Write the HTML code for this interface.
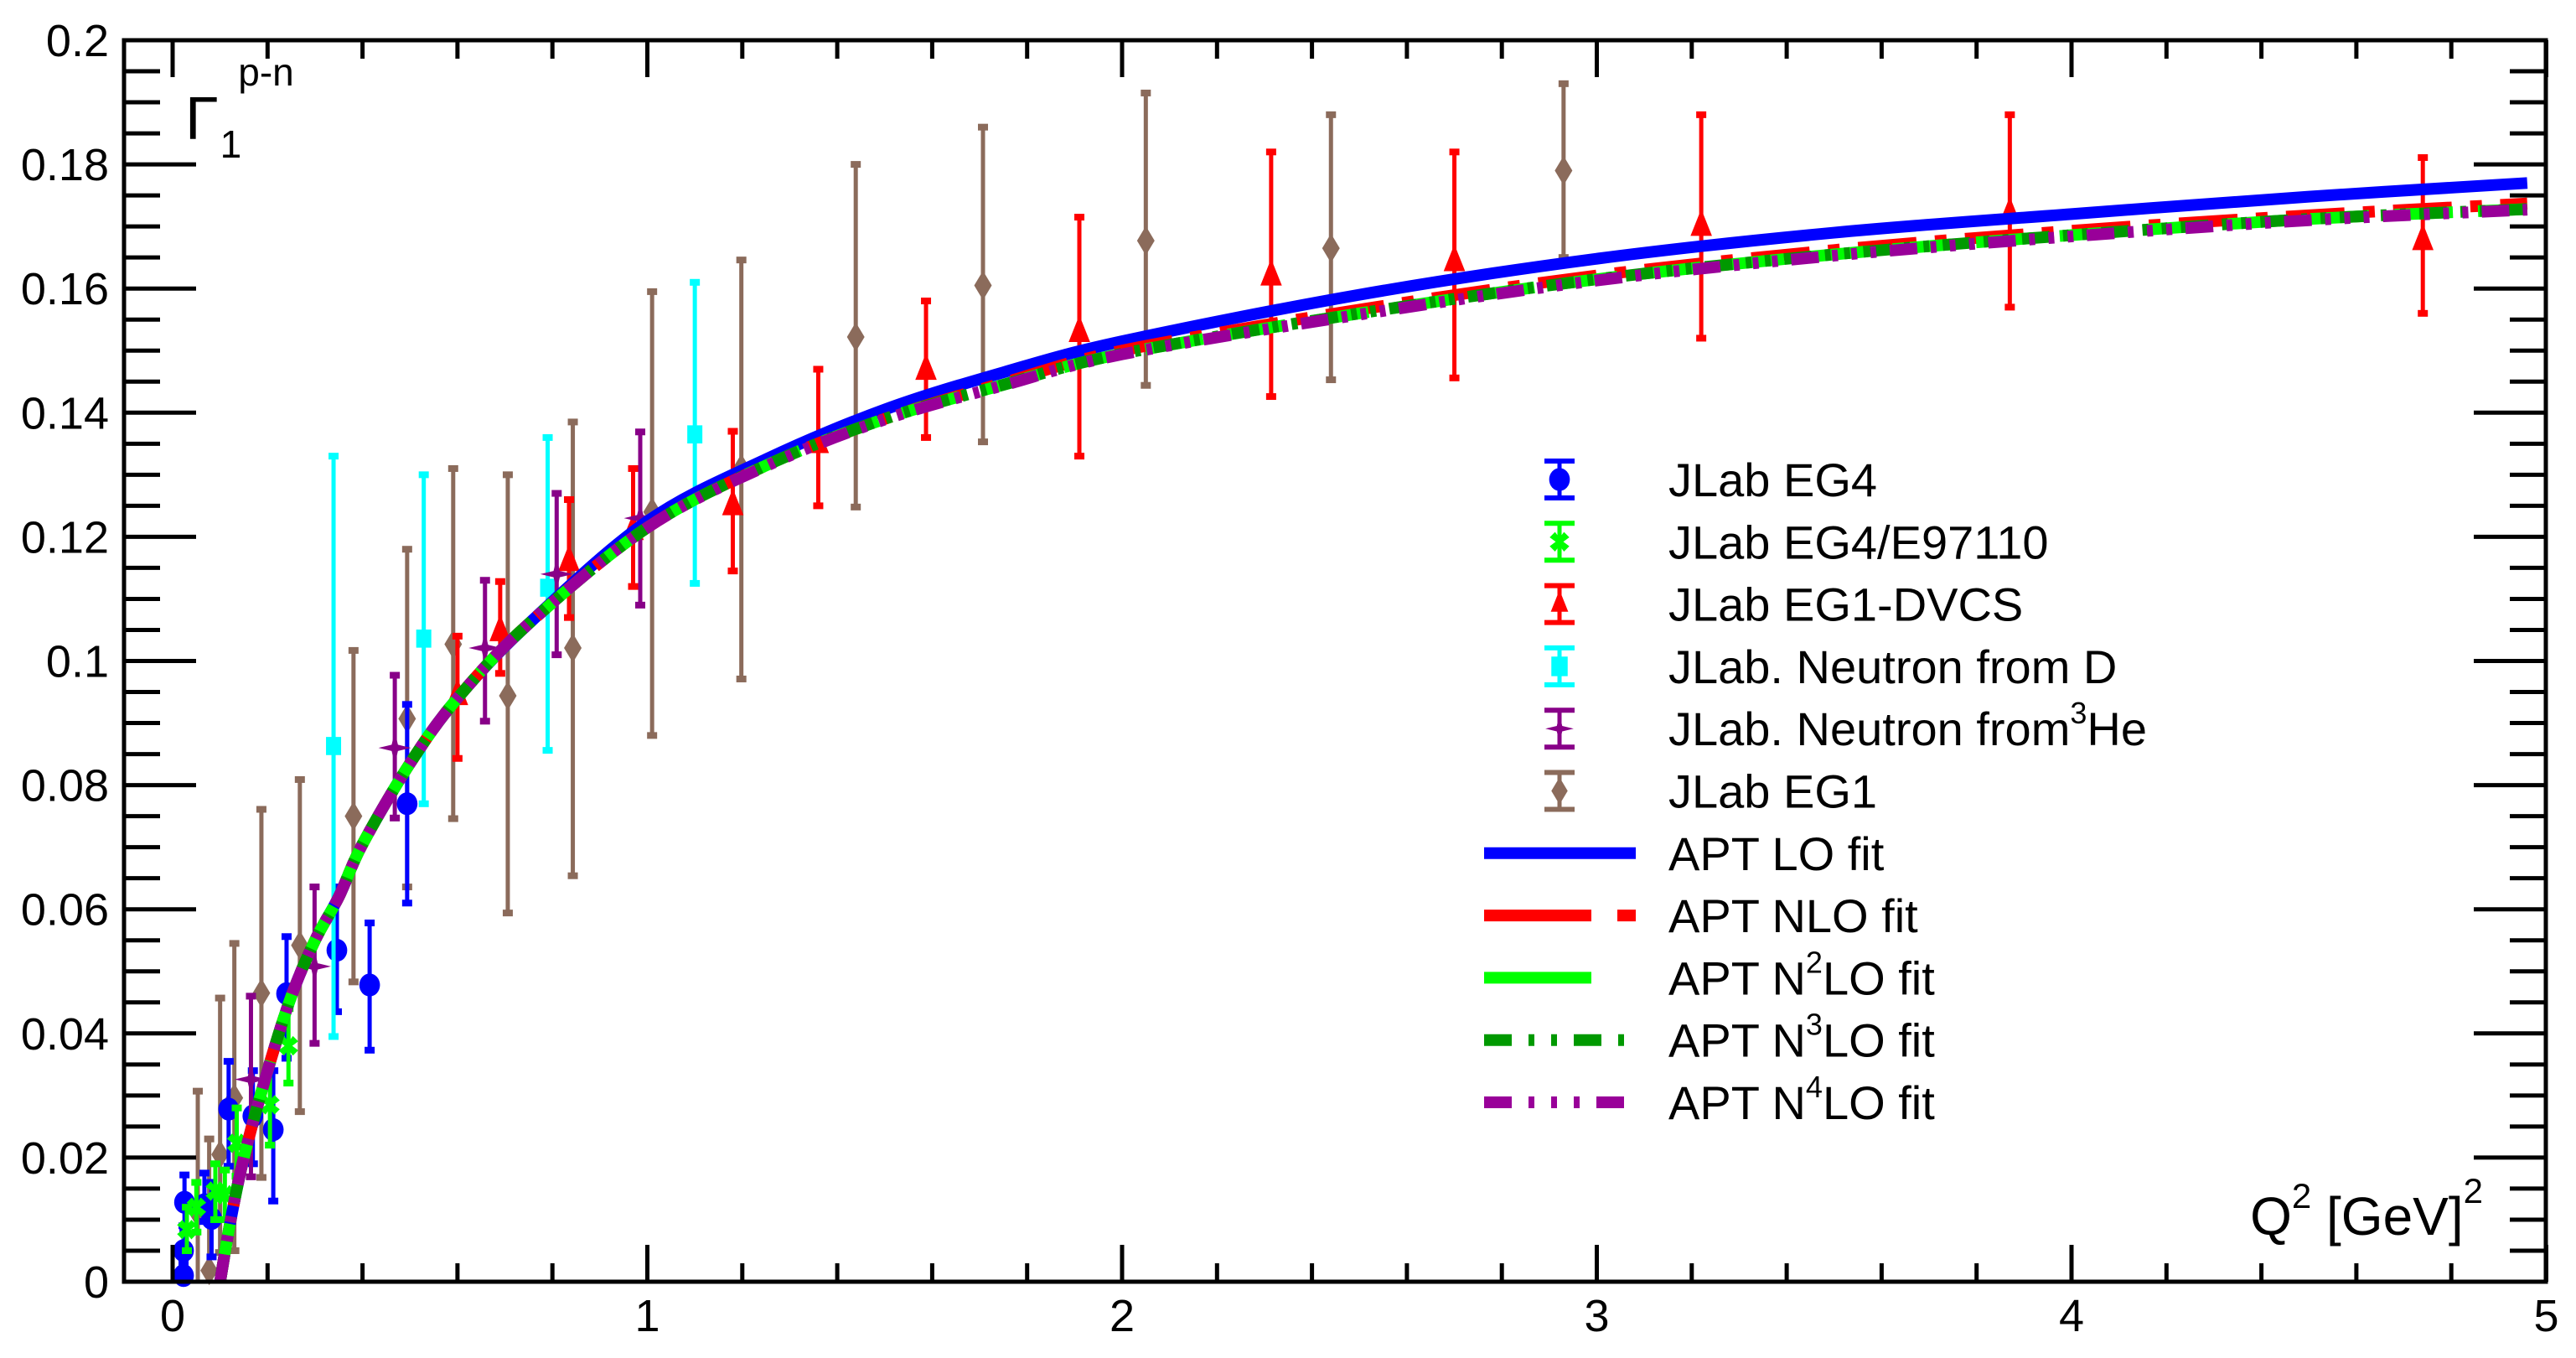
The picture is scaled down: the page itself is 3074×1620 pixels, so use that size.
<!DOCTYPE html>
<html><head><meta charset="utf-8">
<style>
html,body{margin:0;padding:0;background:#fff;}
svg{display:block;font-family:"Liberation Sans",Arial,sans-serif;}
</style></head>
<body>
<svg id="chart" width="3074" height="1620" viewBox="0 0 3074 1620" xmlns="http://www.w3.org/2000/svg">
<rect x="0" y="0" width="3074" height="1620" fill="#fff"/>
<g id="data-layer"></g>
<g id="curve-layer"></g>
<g id="axis-layer"></g>
<g id="legend-layer"></g>
<text x="221" y="166" font-size="72">Γ<tspan font-size="46" dx="2" dy="22">1</tspan><tspan font-size="46" dx="-4" dy="-86">p-n</tspan></text>
<text x="2963" y="1473" font-size="64" text-anchor="end">Q<tspan font-size="42" dy="-32">2</tspan><tspan dy="32"> [GeV]</tspan><tspan font-size="42" dy="-38">2</tspan></text>
</svg>
<script>
// ---- data ----
const xTicks = [0,1,2,3,4,5];
const yTicks = [0,0.02,0.04,0.06,0.08,0.1,0.12,0.14,0.16,0.18,0.2];
const yTickLabels = ["0","0.02","0.04","0.06","0.08","0.1","0.12","0.14","0.16","0.18","0.2"];

const eg4Q   = [0.023,0.023,0.025,0.067,0.082,0.118,0.169,0.212,0.240,0.346,0.415,0.494];
const eg4V   = [0.001,0.005,0.0128,0.0124,0.0102,0.0278,0.0267,0.0245,0.0464,0.0534,0.0478,0.077];
const eg4Lo  = [0.0,0.0,0.008,0.0097,0.004,0.0186,0.019,0.013,0.036,0.0435,0.0373,0.061];
const eg4Hi  = [0.003,0.009,0.0172,0.0175,0.016,0.0355,0.034,0.034,0.0556,0.0636,0.0578,0.093];

const e97Q   = [0.030,0.050,0.090,0.110,0.135,0.205,0.244];
const e97V   = [0.0084,0.012,0.0146,0.014,0.0223,0.0285,0.038];
const e97Lo  = [0.005,0.008,0.010,0.010,0.017,0.022,0.032];
const e97Hi  = [0.012,0.016,0.019,0.018,0.028,0.035,0.044];

const dvcsQ  = [0.60,0.69,0.835,0.97,1.18,1.36,1.587,1.91,2.314,2.70,3.22,3.87,4.74];
const dvcsV  = [0.0944,0.1047,0.116,0.121,0.125,0.135,0.1468,0.1529,0.162,0.1643,0.170,0.172,0.1677];
const dvcsLo = [0.0843,0.098,0.107,0.112,0.1145,0.125,0.136,0.133,0.1426,0.1456,0.152,0.157,0.156];
const dvcsHi = [0.104,0.1128,0.126,0.131,0.137,0.147,0.158,0.1715,0.182,0.182,0.188,0.188,0.1811];

const ndQ    = [0.339,0.529,0.79,1.10];
const ndV    = [0.0863,0.1036,0.1118,0.1365];
const ndLo   = [0.0395,0.077,0.0856,0.1125];
const ndHi   = [0.133,0.130,0.136,0.161];

const n3Q    = [0.165,0.299,0.468,0.658,0.809,0.985];
const n3V    = [0.0326,0.0508,0.086,0.1021,0.114,0.123];
const n3Lo   = [0.0169,0.0384,0.0747,0.0903,0.101,0.109];
const n3Hi   = [0.046,0.0636,0.0977,0.113,0.127,0.1369];

const eg1Q   = [0.053,0.077,0.10,0.13,0.187,0.268,0.381,0.494,0.591,0.706,0.843,1.01,1.198,1.439,1.707,2.05,2.44,2.93];
const eg1V   = [0.011,0.0018,0.0205,0.0296,0.0465,0.0542,0.075,0.0907,0.1027,0.0944,0.1021,0.124,0.131,0.1522,0.1605,0.1677,0.1665,0.179];
const eg1Lo  = [0.0,0.0,0.0047,0.005,0.0168,0.0274,0.0483,0.0636,0.0746,0.0594,0.0654,0.088,0.0971,0.1248,0.1353,0.1444,0.1453,0.165];
const eg1Hi  = [0.0307,0.023,0.0457,0.0545,0.0761,0.0809,0.1017,0.118,0.131,0.130,0.1385,0.1595,0.1646,0.180,0.186,0.1915,0.188,0.193];

const fitQ   = [0.1,0.12,0.15,0.2,0.25,0.3,0.35,0.4,0.5,0.6,0.75,1.0,1.25,1.5,1.75,2,2.5,3,3.5,4,4.5,4.96];
const loV    = [0,0.009,0.02,0.034,0.046,0.055,0.062,0.0705,0.0835,0.094,0.106,0.1225,0.1325,0.1405,0.1465,0.1515,0.159,0.1648,0.169,0.172,0.1748,0.177];
const nloV   = [0,0.009,0.02,0.034,0.046,0.055,0.062,0.0705,0.0835,0.094,0.106,0.1215,0.1315,0.139,0.1448,0.150,0.1566,0.1621,0.1662,0.1693,0.1718,0.1737];
const n2loV  = [0,0.009,0.02,0.034,0.046,0.055,0.062,0.0705,0.0835,0.094,0.106,0.1215,0.1315,0.139,0.1445,0.1495,0.156,0.1615,0.1655,0.1686,0.1712,0.1728];
const n3loV  = [0,0.009,0.02,0.034,0.046,0.055,0.062,0.0705,0.0835,0.094,0.106,0.1215,0.1315,0.139,0.1445,0.1495,0.156,0.1615,0.1655,0.1686,0.1712,0.1728];
const n4loV  = [0,0.009,0.02,0.034,0.046,0.055,0.062,0.0705,0.0835,0.094,0.106,0.1215,0.1314,0.1389,0.1444,0.1494,0.1558,0.1613,0.1653,0.1684,0.171,0.1727];

// ---- geometry ----
const NS = "http://www.w3.org/2000/svg";
const X0 = 206, XU = 566.5, Y0 = 1529, YU = 7405;
const L = 148, R = 3038, T = 48, B = 1529;
function sx(q){ return X0 + q*XU; }
function sy(v){ return Y0 - v*YU; }
function mk(tag, attrs, parent){
  const e = document.createElementNS(NS, tag);
  for (const k in attrs) e.setAttribute(k, attrs[k]);
  parent.appendChild(e);
  return e;
}
const dataL = document.getElementById('data-layer');
const curveL = document.getElementById('curve-layer');
const axisL = document.getElementById('axis-layer');
const legL = document.getElementById('legend-layer');

function markerPath(type, x, y, s){
  if (type==='x'){ const a=s*0.9,b=s*0.35;
    return `M${x-a},${y-a+b*1.4}L${x-a+b*1.4},${y-a}L${x},${y-b}L${x+a-b*1.4},${y-a}L${x+a},${y-a+b*1.4}L${x+b},${y}L${x+a},${y+a-b*1.4}L${x+a-b*1.4},${y+a}L${x},${y+b}L${x-a+b*1.4},${y+a}L${x-a},${y+a-b*1.4}L${x-b},${y}Z`; }
  if (type==='tri') return `M${x},${y-s*1.3}L${x+s*0.8},${y+s*0.7}L${x-s*0.8},${y+s*0.7}Z`;
  if (type==='square') return `M${x-s*0.75},${y-s*0.9}h${s*1.5}v${s*1.8}h${-s*1.5}Z`;
  if (type==='star') return `M${x},${y-s*1.3}L${x+s*0.25},${y-s*0.25}L${x+s*1.3},${y}L${x+s*0.25},${y+s*0.25}L${x},${y+s*1.3}L${x-s*0.25},${y+s*0.25}L${x-s*1.3},${y}L${x-s*0.25},${y-s*0.25}Z`;
  if (type==='diamond') return `M${x},${y-s*1.25}L${x+s*0.75},${y}L${x},${y+s*1.25}L${x-s*0.75},${y}Z`;
}
function drawMarker(g, type, x, y, s, color){
  if (type==='circle') return mk('ellipse',{cx:x,cy:y,rx:s*0.95,ry:s*1.05,fill:color},g);
  return mk('path',{d:markerPath(type,x,y,s),fill:color},g);
}

function drawSeries(name, Q, V, Lo, Hi, color, type, size){
  const g = mk('g',{},dataL);
  
  
  for (let i=0;i<Q.length;i++){
    const x = sx(Q[i]);
    const yl = Math.min(sy(Lo[i]), B), yh = sy(Hi[i]);
    const bar = mk('line',{x1:x,x2:x,y1:yl,y2:yh,stroke:color,'stroke-width':5},g);
    
    
    if (sy(Lo[i]) < B) mk('rect',{x:x-6,y:yl-4,width:12,height:8,fill:color},g);
    mk('rect',{x:x-6,y:yh-4,width:12,height:8,fill:color},g);
    const m = drawMarker(g, type, x, sy(V[i]), size, color);
    
    
  }
}
drawSeries('eg1-series', eg1Q, eg1V, eg1Lo, eg1Hi, '#8b6b5b', 'diamond', 14);
drawSeries('eg4-series', eg4Q, eg4V, eg4Lo, eg4Hi, '#0000ff', 'circle', 13);
drawSeries('eg4-e97110-series', e97Q, e97V, e97Lo, e97Hi, '#00ff00', 'x', 13);
drawSeries('eg1-dvcs-series', dvcsQ, dvcsV, dvcsLo, dvcsHi, '#ff0000', 'tri', 16);
drawSeries('neutron-d-series', ndQ, ndV, ndLo, ndHi, '#00ffff', 'square', 12);
drawSeries('neutron-3he-series', n3Q, n3V, n3Lo, n3Hi, '#880088', 'star', 15);

function curvePath(Q, V){
  const P = Q.map((q,i)=>[sx(q), sy(V[i])]);
  let d = `M${P[0][0]},${P[0][1]}`;
  for (let i=0;i<P.length-1;i++){
    const p0=P[Math.max(i-1,0)], p1=P[i], p2=P[i+1], p3=P[Math.min(i+2,P.length-1)];
    const c1=[p1[0]+(p2[0]-p0[0])/6, p1[1]+(p2[1]-p0[1])/6];
    const c2=[p2[0]-(p3[0]-p1[0])/6, p2[1]-(p3[1]-p1[1])/6];
    d += `C${c1[0]},${c1[1]} ${c2[0]},${c2[1]} ${p2[0]},${p2[1]}`;
  }
  return d;
}
const curveDefs = [
  ['apt-lo-fit', loV, '#0000ff', ''],
  ['apt-nlo-fit', nloV, '#ff0000', '70 22 14 22'],
  ['apt-n2lo-fit', n2loV, '#00ff00', '70 30'],
  ['apt-n3lo-fit', n3loV, '#009900', '33 16 7 16 7 16'],
  ['apt-n4lo-fit', n4loV, '#990099', '33 16 7 16 7 16 7 16']
];
for (const c of curveDefs){
  const p = mk('path',{d:curvePath(fitQ, c[1]),fill:'none',stroke:c[2],'stroke-width':14},curveL);
  if (c[3]) p.setAttribute('stroke-dasharray', c[3]);
  
  
}

// axes
const frame = mk('rect',{x:L,y:T,width:R-L,height:B-T,fill:'none',stroke:'#000','stroke-width':5},axisL);


for (let k=0; k<=5.0001; k+=0.2){
  const x = sx(k);
  const major = Math.abs(k-Math.round(k))<1e-6;
  const len = major?44:22;
  mk('line',{x1:x,x2:x,y1:B,y2:B-len,stroke:'#000','stroke-width':5},axisL);
  mk('line',{x1:x,x2:x,y1:T,y2:T+len,stroke:'#000','stroke-width':5},axisL);
}
for (let k=0; k<=0.2001; k+=0.005){
  const y = sy(k);
  const major = Math.abs(k/0.02-Math.round(k/0.02))<1e-6;
  const len = major?86:43;
  mk('line',{x1:L,x2:L+len,y1:y,y2:y,stroke:'#000','stroke-width':5},axisL);
  mk('line',{x1:R,x2:R-len,y1:y,y2:y,stroke:'#000','stroke-width':5},axisL);
}
xTicks.forEach(t=>{
  const e = mk('text',{x:sx(t),y:1588,'font-size':54,'text-anchor':'middle'},axisL);
  e.textContent = String(t);
  
  
});
yTicks.forEach((t,i)=>{
  const e = mk('text',{x:130,y:sy(t)+19,'font-size':54,'text-anchor':'end'},axisL);
  e.textContent = yTickLabels[i];
  
  
});

// legend
const legendRows = [
  ['JLab EG4','#0000ff','circle',null],
  ['JLab EG4/E97110','#00ff00','x',null],
  ['JLab EG1-DVCS','#ff0000','tri',null],
  ['JLab. Neutron from D','#00ffff','square',null],
  ['JLab. Neutron from|3|He','#880088','star',null],
  ['JLab EG1','#8b6b5b','diamond',null],
  ['APT LO fit','#0000ff',null,''],
  ['APT NLO fit','#ff0000',null,'128 31 22 31'],
  ['APT N|2|LO fit','#00ff00',null,'128 60'],
  ['APT N|3|LO fit','#009900',null,'33 20 7 20 7 20'],
  ['APT N|4|LO fit','#990099',null,'33 20 7 20 7 20 7 20']
];
legendRows.forEach((r,i)=>{
  const cy = 572 + 74.3*i;
  const g = mk('g',{},legL);
  
  
  if (r[2]){
    const mx = 1861;
    mk('line',{x1:mx,x2:mx,y1:cy-22,y2:cy+22,stroke:r[1],'stroke-width':5},g);
    mk('line',{x1:mx-18,x2:mx+18,y1:cy-22,y2:cy-22,stroke:r[1],'stroke-width':6},g);
    mk('line',{x1:mx-18,x2:mx+18,y1:cy+22,y2:cy+22,stroke:r[1],'stroke-width':6},g);
    drawMarker(g, r[2], mx, cy, 13, r[1]);
  } else {
    const ln = mk('line',{x1:1771,x2:1952,y1:cy,y2:cy,stroke:r[1],'stroke-width':14},g);
    if (r[3]) ln.setAttribute('stroke-dasharray', r[3]);
  }
  const t = mk('text',{x:1991,y:cy+20,'font-size':56},g);
  const parts = r[0].split('|');
  parts.forEach((p,j)=>{
    const s = mk('tspan',{},t);
    if (j===1){ s.setAttribute('font-size','36'); s.setAttribute('dy','-26'); }
    if (j===2){ s.setAttribute('dy','26'); }
    s.textContent = p;
  });
});
</script>
</body></html>
